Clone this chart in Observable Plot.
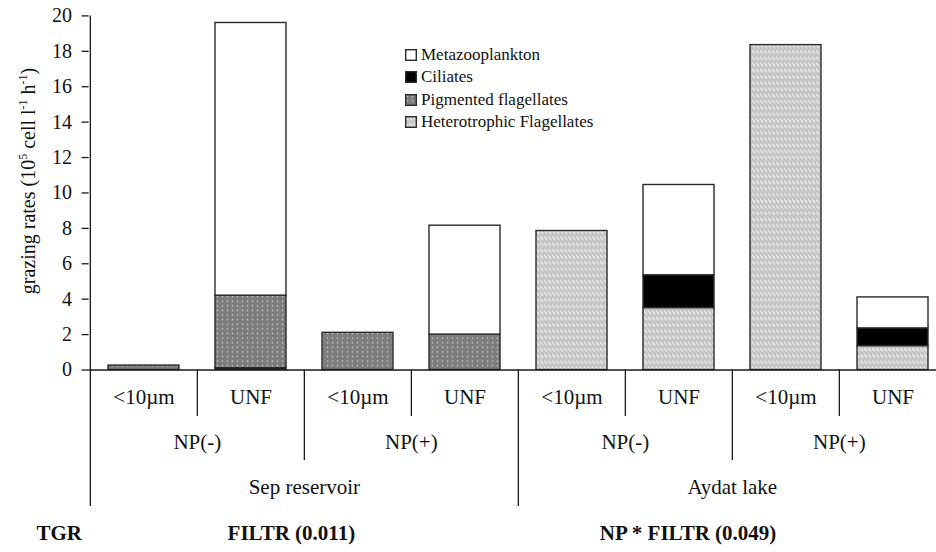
<!DOCTYPE html>
<html><head><meta charset="utf-8">
<script src="https://cdn.jsdelivr.net/npm/d3@7"></script>
<script src="https://cdn.jsdelivr.net/npm/@observablehq/plot@0.6"></script>
<style>
html,body{margin:0;padding:0;background:#fff;}
#wrap{position:relative;width:936px;height:552px;font-family:"Liberation Serif","Times New Roman",serif;color:#111;}
#legend{position:absolute;left:405px;top:44px;font-size:17px;line-height:22.3px;}
.row{display:flex;align-items:center;height:22.3px;}
.row svg{margin-right:4px;}
</style></head><body>
<svg width="0" height="0" style="position:absolute">
  <defs>
    <pattern id="pig" patternUnits="userSpaceOnUse" width="5" height="4.6">
      <rect width="5" height="4.6" fill="#7c7c7c"></rect>
      <rect x="1.8" y="1.6" width="1.4" height="1.4" fill="#cfcfcf"></rect>
    </pattern>
    <pattern id="het" patternUnits="userSpaceOnUse" width="4" height="6.2">
      <rect width="4" height="6.2" fill="#c6c6c6"></rect>
      <line x1="0" y1="1" x2="3" y2="4" stroke="#f2f2f2" stroke-width="1.2"></line>
    </pattern>
  </defs>
</svg>
<div id="wrap"><div id="legend"></div></div>
<script>
// ---- data ----
const samples = ["Sep NP(-) <10µm","Sep NP(-) UNF","Sep NP(+) <10µm","Sep NP(+) UNF",
                 "Aydat NP(-) <10µm","Aydat NP(-) UNF","Aydat NP(+) <10µm","Aydat NP(+) UNF"];
const filters = ["<10µm","UNF","<10µm","UNF","<10µm","UNF","<10µm","UNF"];
const npLabels = ["NP(-)","NP(+)","NP(-)","NP(+)"];
const lakes = ["Sep reservoir","Aydat lake"];
const species = ["Heterotrophic Flagellates","Ciliates","Pigmented flagellates","Metazooplankton"];
const heterotrophic = [0, 0, 0, 0, 7.85, 3.5, 18.35, 1.35];
const ciliates      = [0, 0.1, 0, 0, 0, 1.85, 0, 1.0];
const pigmented     = [0.25, 4.1, 2.1, 2.0, 0, 0, 0, 0];
const metazoo       = [0, 15.4, 0, 6.15, 0, 5.1, 0, 1.75];
const yTicks = [0,2,4,6,8,10,12,14,16,18,20];
const legendOrder = ["Metazooplankton","Ciliates","Pigmented flagellates","Heterotrophic Flagellates"];
const fills = ["url(#het)","black","url(#pig)","white"];
const testLabels = ["TGR","FILTR (0.011)","NP * FILTR (0.049)"];

const seriesValues = [heterotrophic, ciliates, pigmented, metazoo];
const table = [];
species.forEach((s, k) => samples.forEach((x, i) => {
  if (seriesValues[k][i] > 0) table.push({sample: x, species: s, value: seriesValues[k][i]});
}));

const xRange = [88.6, 947];
const step = (xRange[1] - xRange[0]) / samples.length;
const half = -step / 2;
const lvl1 = -2.63, lvl2 = -5.11, lvl3 = -7.71;
const ruleStyle = {stroke: "#1a1a1a", strokeWidth: 1.3};

const plot = Plot.plot({
  width: 936, height: 552,
  marginLeft: 88.6, marginRight: 0, marginTop: 15.4, marginBottom: 182.5,
  style: {fontFamily: '"Liberation Serif","Times New Roman",serif', fontSize: "20px", background: "white", color: "#111"},
  x: {domain: samples, range: xRange, paddingInner: 0.338, paddingOuter: 0.169, axis: null},
  y: {domain: [0, 20]},
  color: {domain: species, range: fills, type: "ordinal"},
  marks: [
    Plot.barY(table, {x: "sample", y: "value", fill: "species", stroke: "#2a2a2a", strokeWidth: 1.4}),
    Plot.axisY(yTicks, {tickSize: 7, tickPadding: 10, fontSize: 20, label: null, strokeWidth: 1.3, stroke: "#1a1a1a"}),
    Plot.ruleY([0], ruleStyle),
    Plot.ruleX([samples[0]], {...ruleStyle, dx: half, y1: 20, y2: lvl3}),
    Plot.ruleX([samples[4]], {...ruleStyle, dx: half, y1: 0, y2: lvl3}),
    Plot.ruleX([samples[2], samples[6]], {...ruleStyle, dx: half, y1: 0, y2: lvl2}),
    Plot.ruleX([samples[1], samples[3], samples[5], samples[7]], {...ruleStyle, dx: half, y1: 0, y2: lvl1}),
    Plot.text(samples, {x: d => d, text: (d, i) => filters[i], frameAnchor: "bottom", dy: 33.5, fontSize: 21, fill: "#111"}),
    Plot.text(npLabels, {x: (d, i) => samples[2 * i + 1], text: d => d, frameAnchor: "bottom", dx: half, dy: 78.5, fontSize: 21, fill: "#111"}),
    Plot.text(lakes, {x: (d, i) => samples[4 * i + 2], text: d => d, frameAnchor: "bottom", dx: half, dy: 123.5, fontSize: 21, fill: "#111"}),
    Plot.text([testLabels[0]], {frameAnchor: "bottom-left", text: d => d, textAnchor: "start", dx: -52.6, dy: 169.5, fontSize: 21, fontWeight: "bold", fill: "#111"}),
    Plot.text([testLabels[1]], {x: [samples[2]], text: d => d, frameAnchor: "bottom", dx: half - 13, dy: 169.5, fontSize: 21, fontWeight: "bold", fill: "#111"}),
    Plot.text([testLabels[2]], {x: [samples[5]], text: d => d, frameAnchor: "bottom", dx: 9, dy: 169.5, fontSize: 21, fontWeight: "bold", fill: "#111"})
  ]
});
document.getElementById("wrap").insertBefore(plot, document.getElementById("legend"));

// y-axis title with superscripts
const svg = d3.select(plot);
const t = svg.append("text")
  .attr("transform", "translate(35,181) rotate(-90)")
  .attr("text-anchor", "middle")
  .attr("fill", "#111")
  .attr("font-size", 20);
t.append("tspan").text("grazing rates (10");
t.append("tspan").attr("dy", -8).attr("font-size", 12).text("5");
t.append("tspan").attr("dy", 8).text(" cell l");
t.append("tspan").attr("dy", -8).attr("font-size", 12).text("-1");
t.append("tspan").attr("dy", 8).text(" h");
t.append("tspan").attr("dy", -8).attr("font-size", 12).text("-1");
t.append("tspan").attr("dy", 8).text(")");

// legend
const legend = d3.select("#legend");
legendOrder.forEach(name => {
  const row = legend.append("div").attr("class", "row");
  const sw = row.append("svg").attr("width", 12).attr("height", 12);
  sw.append("rect").attr("x", 0.7).attr("y", 0.7).attr("width", 10.6).attr("height", 10.6)
    .attr("fill", fills[species.indexOf(name)]).attr("stroke", "#2a2a2a").attr("stroke-width", 1.4);
  row.append("span").text(name);
});
</script>
</body></html>
